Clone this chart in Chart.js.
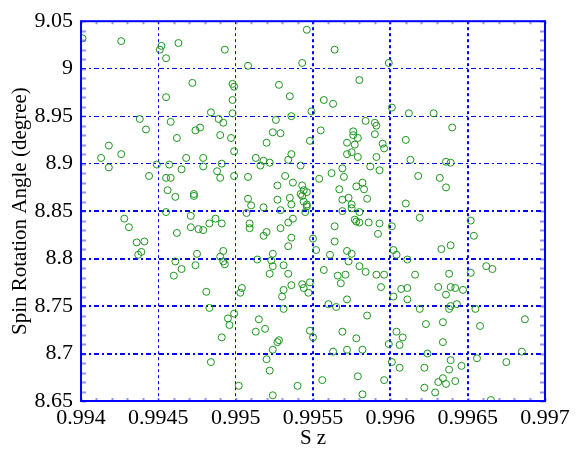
<!DOCTYPE html>
<html>
<head>
<meta charset="utf-8">
<script src="https://cdn.jsdelivr.net/npm/chart.js"></script>
<style>html,body{margin:0;background:#fff}</style>
</head>
<body>
<canvas id="c" width="579" height="451"></canvas>
<script>
// S z values (x) and spin rotation angle (y)
const sz = [
  0.99401,0.99426,0.99452,0.99451,0.99463,0.99455,0.99493,0.99472,0.99498,0.99499,
  0.99455,0.99498,0.99438,0.99442,0.99458,0.99484,0.99489,0.99492,0.99498,0.99477,
  0.99474,0.9949,0.99497,0.99462,0.99418,
  0.99546,0.99564,0.99543,0.99508,0.99599,0.99528,0.99535,0.9958,0.99557,0.99563,
  0.99549,0.99536,0.99526,0.99601,0.99584,0.9959,0.99591,0.99555,0.99524,0.99529,
  0.99576,0.99576,0.99579,0.9959,0.9952,0.99548,0.99572,0.99577,0.99595,
  0.99612,0.99628,0.9964,0.9961,
  0.99413,0.99426,0.99418,0.99449,0.99457,0.99468,0.99479,0.99479,0.99465,0.99491,
  0.99488,0.9949,0.99499,0.99499,0.99444,0.99455,0.99458,0.99456,0.99461,0.99473,
  0.99473,0.99455,0.99471,0.99428,0.99431,0.99462,0.99471,0.99476,0.99479,0.99483,
  0.99487,0.99491,0.99436,0.99441,0.99437,0.99439,0.99475,0.99492,0.9949,0.99492,
  0.99493,0.99461,0.99474,0.99465,0.9946,
  0.99513,0.99518,0.99522,0.99516,0.99536,0.99534,0.99542,0.99508,0.99532,0.99537,
  0.99527,0.99543,0.99544,0.99546,0.99542,0.99543,0.99535,0.99527,0.99536,0.99544,
  0.99546,0.99546,0.99508,0.9951,0.99518,0.99529,0.99507,0.99545,0.99509,0.99509,
  0.99534,0.99537,0.99529,0.9952,0.99518,0.99536,0.99534,0.99524,0.99514,0.99523,
  0.99524,0.99531,0.99522,0.99534,
  0.99575,0.99572,0.99579,0.99596,0.99591,0.99569,0.9957,0.99562,0.99554,0.99587,
  0.99593,0.99582,0.99578,0.99583,0.99567,0.99573,0.99569,0.99575,0.99575,0.99585,
  0.99569,0.9958,0.99577,0.99578,0.9958,0.99586,0.99593,0.99592,0.99564,0.99564,
  0.99601,0.9955,0.99552,0.99561,0.99572,0.99575,0.99573,0.99602,0.9958,0.99557,
  0.99584,0.99566,0.99571,0.99591,0.99596,
  0.99613,0.99636,0.99639,0.99618,0.99632,0.99636,0.9961,0.99619,0.99652,0.99654,
  0.99604,0.99633,0.99639,0.99611,0.99662,0.99666,0.99616,0.99638,0.99652,
  0.99481,0.99483,0.99495,0.99496,0.99499,0.99491,0.99484,
  0.99548,0.99543,0.99544,0.99547,0.99536,0.99531,0.9953,0.99504,0.99503,0.99531,
  0.99515,0.99513,0.99519,0.99528,0.99527,0.99524,0.99548,0.9955,0.9952,0.99522,
  0.99502,0.9954,0.99524,0.99568,0.99594,0.99602,0.9956,0.99565,0.99572,0.99585,
  0.99569,0.99578,0.99599,0.99604,0.99563,0.99572,0.99582,0.99601,0.99556,0.99579,
  0.99596,0.99582,
  0.99607,0.99611,0.99611,0.99631,0.99639,0.99642,0.99647,0.99636,0.99643,0.99639,
  0.99638,0.99619,0.99655,0.99623,0.99634,0.99608,0.99606,0.99634,0.99658,0.99687,
  0.99624,0.99685,0.99656,0.99675,0.99606,0.99622,0.99639,0.99638,0.99646,0.99634,
  0.99631,0.99636,0.99642,0.99622,0.99629,0.99665
];
const angle = [
  9.032,9.029,9.024,9.020,9.027,9.011,9.020,8.985,8.984,8.981,
  8.970,8.967,8.947,8.936,8.944,8.954,8.947,8.943,8.953,8.938,
  8.935,8.930,8.927,8.927,8.919,
  9.041,9.020,9.006,9.003,9.006,8.983,8.971,8.988,8.967,8.963,
  8.955,8.950,8.946,8.959,8.945,8.943,8.940,8.935,8.933,8.932,
  8.934,8.930,8.927,8.931,8.922,8.924,8.922,8.920,8.921,
  8.953,8.953,8.938,8.925,
  8.906,8.910,8.896,8.899,8.899,8.906,8.906,8.897,8.894,8.900,
  8.892,8.885,8.913,8.887,8.887,8.885,8.885,8.872,8.865,8.868,
  8.866,8.849,8.845,8.842,8.833,8.827,8.833,8.831,8.830,8.837,
  8.842,8.837,8.817,8.818,8.804,8.807,8.805,8.808,8.802,8.797,
  8.794,8.797,8.793,8.789,8.782,
  8.906,8.903,8.901,8.898,8.910,8.904,8.898,8.886,8.887,8.880,
  8.877,8.877,8.872,8.870,8.868,8.866,8.864,8.862,8.857,8.860,
  8.857,8.855,8.863,8.856,8.854,8.851,8.848,8.849,8.837,8.832,
  8.838,8.842,8.832,8.828,8.824,8.822,8.813,8.805,8.799,8.798,
  8.792,8.793,8.784,8.784,
  8.912,8.910,8.907,8.916,8.907,8.895,8.886,8.890,8.884,8.897,
  8.893,8.880,8.876,8.873,8.873,8.864,8.862,8.857,8.853,8.863,
  8.850,8.849,8.841,8.839,8.838,8.838,8.837,8.826,8.834,8.818,
  8.834,8.821,8.809,8.804,8.808,8.805,8.797,8.809,8.792,8.788,
  8.786,8.782,8.783,8.783,8.783,
  8.904,8.902,8.901,8.887,8.885,8.875,8.858,8.843,8.840,8.824,
  8.804,8.810,8.814,8.799,8.792,8.789,8.783,8.784,8.785,
  8.765,8.748,8.737,8.730,8.742,8.717,8.691,
  8.775,8.773,8.769,8.764,8.772,8.767,8.760,8.769,8.764,8.747,
  8.736,8.723,8.726,8.714,8.712,8.704,8.724,8.717,8.694,8.682,
  8.666,8.666,8.656,8.774,8.770,8.760,8.752,8.749,8.757,8.740,
  8.723,8.716,8.710,8.723,8.702,8.704,8.704,8.691,8.672,8.676,
  8.672,8.657,
  8.768,8.769,8.757,8.770,8.770,8.769,8.767,8.762,8.752,8.750,
  8.747,8.747,8.747,8.731,8.733,8.717,8.709,8.712,8.729,8.736,
  8.700,8.702,8.695,8.691,8.685,8.685,8.693,8.683,8.687,8.674,
  8.670,8.668,8.671,8.664,8.659,8.651
];
const xTicks = [0.994,0.9945,0.995,0.9955,0.996,0.9965,0.997];
const yTicks = [8.65,8.7,8.75,8.8,8.85,8.9,8.95,9,9.05];
const thickX = [0.9955,0.996,0.9965];
const thickY = [8.7,8.75,8.8,8.85];

const BLUE = '#0000ff';
const serif = 'Liberation Serif, Times New Roman, serif';

// box round the plot plus the small inward minor ticks
const frame = {
  id: 'frame',
  afterDraw(chart) {
    const {ctx, chartArea: a, scales: {x, y}} = chart;
    ctx.save();
    ctx.strokeStyle = 'rgba(60,60,255,0.55)';
    ctx.lineWidth = 2;
    ctx.beginPath();
    for (let v = 8.65; v <= 9.0501; v += 0.01) {
      const py = Math.round(y.getPixelForValue(v)) + 0.5;
      ctx.moveTo(a.left, py); ctx.lineTo(a.left + 5, py);
      ctx.moveTo(a.right, py); ctx.lineTo(a.right - 5, py);
    }
    for (let v = 0.994; v <= 0.99701; v += 0.0001) {
      const px = Math.round(x.getPixelForValue(v)) + 0.5;
      ctx.moveTo(px, a.bottom); ctx.lineTo(px, a.bottom - 3);
      ctx.moveTo(px, a.top); ctx.lineTo(px, a.top + 3);
    }
    ctx.stroke();
    ctx.strokeStyle = BLUE;
    ctx.lineWidth = 2;
    ctx.strokeRect(a.left, a.top, a.right - a.left, a.bottom - a.top);
    ctx.restore();
  }
};

new Chart(document.getElementById('c'), {
  type: 'scatter',
  data: {
    datasets: [{
      data: sz.map((v, i) => ({x: v, y: angle[i]})),
      pointStyle: 'circle',
      radius: 3.5,
      hoverRadius: 3.5,
      borderWidth: 1,
      borderColor: '#1a961a',
      backgroundColor: 'rgba(0,0,0,0)'
    }]
  },
  options: {
    responsive: false,
    animation: false,
    layout: {padding: {left: 0, right: 34, top: 5, bottom: 0}},
    plugins: {legend: {display: false}, tooltip: {enabled: false}},
    scales: {
      x: {
        type: 'linear', min: 0.994, max: 0.997,
        afterBuildTicks: s => { s.ticks = xTicks.map(v => ({value: v})); },
        afterFit: s => { s.height = 50; },
        ticks: {
          callback: v => String(+v.toFixed(4)),
          color: '#000', padding: 4, maxRotation: 0, autoSkip: false,
          font: {family: serif, size: 22}
        },
        grid: {
          drawTicks: false, color: BLUE,
          lineWidth: c => (c.tick && (c.index === 0 || c.index === xTicks.length - 1)) ? 0 :
            (c.tick && thickX.includes(c.tick.value) ? 2 : 1)
        },
        border: {display: false, dash: [3, 3]},
        title: {display: true, text: 'S z', color: '#000', padding: 0, font: {family: serif, size: 21}}
      },
      y: {
        type: 'linear', min: 8.65, max: 9.05,
        afterBuildTicks: s => { s.ticks = yTicks.map(v => ({value: v})); },
        afterFit: s => { s.width = 81; },
        ticks: {
          callback: v => String(+v.toFixed(2)),
          color: '#000', padding: 8, autoSkip: false,
          font: {family: serif, size: 22}
        },
        grid: {
          drawTicks: false, color: BLUE,
          lineWidth: c => (c.tick && (c.index === 0 || c.index === yTicks.length - 1)) ? 0 :
            (c.tick && thickY.includes(c.tick.value) ? 2 : 1)
        },
        border: {display: false, dash: [5, 3, 2, 3]},
        title: {display: true, text: 'Spin Rotation Angle (degree)', color: '#000',
          padding: {top: 8, bottom: 0}, font: {family: serif, size: 21}}
      }
    }
  },
  plugins: [frame]
});
</script>
</body>
</html>
